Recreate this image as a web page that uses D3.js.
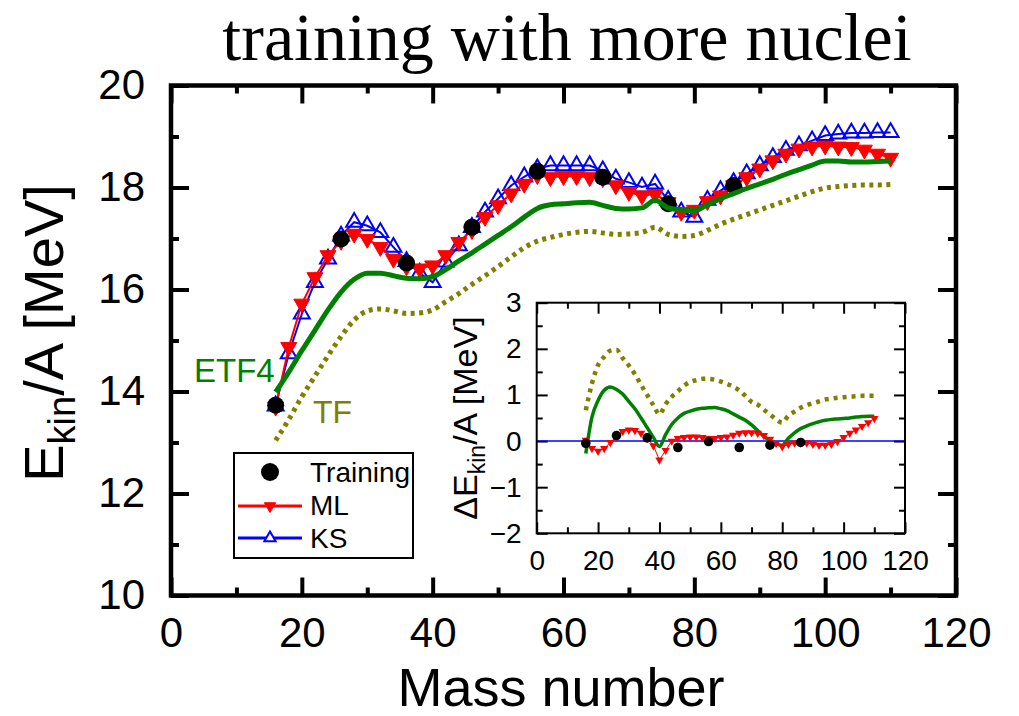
<!DOCTYPE html>
<html><head><meta charset="utf-8">
<script src="https://cdn.jsdelivr.net/npm/d3@7"></script>
<style>
html,body{margin:0;padding:0;background:#fff;}
svg{display:block;}
</style></head>
<body>
<svg id="chart" width="1019" height="716" style="font-family:'Liberation Sans',Arial,sans-serif"></svg>
<script>
// ---------- data ----------
const mass = [16,18,20,22,24,26,28,30,32,34,36,38,40,42,44,46,48,50,52,54,56,58,60,62,64,66,68,70,72,74,76,78,80,82,84,86,88,90,92,94,96,98,100,102,104,106,108,110];
const mlValues = [13.70,14.87,15.72,16.24,16.67,16.95,17.09,16.99,16.83,16.60,16.45,16.41,16.47,16.67,16.93,17.16,17.42,17.65,17.88,18.07,18.24,18.20,18.22,18.22,18.20,18.18,18.04,17.91,17.84,17.87,17.71,17.52,17.56,17.73,17.84,18.04,18.20,18.37,18.53,18.66,18.76,18.80,18.82,18.80,18.79,18.74,18.66,18.58];
const ksValues = [13.72,14.74,15.52,16.14,16.60,17.05,17.32,17.25,17.12,16.83,16.55,16.32,16.14,16.54,16.86,17.22,17.52,17.78,18.04,18.21,18.37,18.43,18.43,18.43,18.43,18.33,18.17,18.10,18.01,18.07,17.75,17.52,17.42,17.75,17.94,18.10,18.27,18.43,18.59,18.73,18.82,18.92,19.02,19.05,19.07,19.07,19.08,19.08];
const etf4Values = [13.99,14.38,14.80,15.20,15.60,15.95,16.20,16.32,16.32,16.27,16.22,16.21,16.25,16.39,16.56,16.72,16.89,17.06,17.23,17.42,17.59,17.66,17.68,17.70,17.71,17.65,17.59,17.58,17.60,17.75,17.60,17.56,17.55,17.66,17.78,17.88,17.98,18.07,18.16,18.26,18.35,18.44,18.52,18.52,18.50,18.50,18.51,18.52];
const tfValues = [13.04,13.45,13.90,14.30,14.70,15.08,15.40,15.58,15.62,15.58,15.53,15.54,15.60,15.76,15.92,16.10,16.27,16.45,16.64,16.82,16.95,17.02,17.08,17.12,17.14,17.11,17.08,17.09,17.12,17.22,17.08,17.04,17.06,17.16,17.28,17.38,17.47,17.56,17.65,17.74,17.83,17.92,17.99,18.02,18.04,18.05,18.05,18.06];
const trainMass = [16,26,36,46,56,66,76,86];
const trainValues = [13.73,16.99,16.52,17.22,18.32,18.20,17.68,18.04];

// inset: Delta E_kin/A
const dMlValues = [0.02,-0.16,-0.22,-0.16,-0.03,0.10,0.21,0.24,0.23,0.17,0.07,-0.10,-0.41,-0.20,0.00,0.06,0.08,0.09,0.09,0.08,0.06,0.06,0.08,0.09,0.13,0.17,0.18,0.18,0.17,0.12,0.04,-0.05,-0.12,-0.07,-0.04,-0.04,-0.04,-0.07,-0.09,-0.09,-0.07,-0.01,0.08,0.17,0.24,0.32,0.40,0.49];
const dEtf4Values = [-0.27,0.52,0.88,1.10,1.17,1.12,1.02,0.86,0.70,0.50,0.29,0.08,-0.12,0.14,0.36,0.50,0.60,0.65,0.69,0.71,0.72,0.73,0.70,0.66,0.59,0.52,0.45,0.35,0.23,0.10,0.01,-0.06,-0.09,0.06,0.18,0.27,0.33,0.38,0.42,0.45,0.47,0.48,0.49,0.50,0.52,0.53,0.54,0.54];
const dTfValues = [0.67,1.25,1.65,1.83,1.96,1.98,1.80,1.64,1.45,1.22,1.00,0.78,0.58,0.80,0.96,1.08,1.20,1.28,1.32,1.35,1.35,1.33,1.29,1.24,1.18,1.10,0.98,0.85,0.79,0.68,0.58,0.47,0.40,0.55,0.64,0.72,0.78,0.82,0.86,0.90,0.92,0.94,0.95,0.96,0.97,0.98,0.98,0.98];
const dTrainValues = [-0.05,0.12,0.07,-0.14,-0.01,-0.14,-0.09,-0.03];
const zeroLineX = [0,120];
const zeroLineY = [0,0];

const xTicks = [0,20,40,60,80,100,120];
const xMinor = [10,30,50,70,90,110];
const yTicks = [10,12,14,16,18,20];
const yMinor = [11,13,15,17,19];
const ixTicks = [0,20,40,60,80,100,120];
const ixMinor = [10,30,50,70,90,110];
const iyTicks = [-2,-1,0,1,2,3];
const iyMinor = [-1.5,-0.5,0.5,1.5,2.5];

const titleText = "training with more nuclei";
const xLabel = "Mass number";

// ---------- drawing ----------
const svg = d3.select("#chart");
const L = 171, R = 956, T = 85.5, B = 595.5;
const x = d3.scaleLinear().domain([0,120]).range([L,R]);
const y = d3.scaleLinear().domain([10,20]).range([B,T]);

const colRed="#ff0000", colBlue="#0000ff", colGreen="#008000", colOlive="#808000";
const sans = "'Liberation Sans',Arial,sans-serif";

function styleAxis(g, fs, sw){
  g.select(".domain").remove();
  g.selectAll(".tick line").attr("stroke","#000").attr("stroke-width",sw);
  g.selectAll(".tick text").attr("font-size",fs).attr("fill","#000").attr("font-family",sans);
}

// title
svg.append("text").attr("x",567).attr("y",60).attr("text-anchor","middle")
  .style("font-family","'Liberation Serif','Times New Roman',serif").attr("font-size",68)
  .text(titleText);

// main axes
const gx = svg.append("g").attr("transform",`translate(0,${B})`)
  .call(d3.axisBottom(x).tickValues(xTicks).tickSize(-18).tickPadding(22).tickFormat(d3.format("d")));
styleAxis(gx,42,4);
const gxm = svg.append("g").attr("transform",`translate(0,${B})`)
  .call(d3.axisBottom(x).tickValues(xMinor).tickSize(-8).tickFormat(""));
styleAxis(gxm,42,4);
const gxt = svg.append("g").attr("transform",`translate(0,${T})`)
  .call(d3.axisTop(x).tickValues(xTicks).tickSize(-18).tickFormat(""));
styleAxis(gxt,42,4);
const gxtm = svg.append("g").attr("transform",`translate(0,${T})`)
  .call(d3.axisTop(x).tickValues(xMinor).tickSize(-8).tickFormat(""));
styleAxis(gxtm,42,4);

const gy = svg.append("g").attr("transform",`translate(${L},0)`)
  .call(d3.axisLeft(y).tickValues(yTicks).tickSize(-18).tickPadding(26).tickFormat(d3.format("d")));
styleAxis(gy,42,4);
const gym = svg.append("g").attr("transform",`translate(${L},0)`)
  .call(d3.axisLeft(y).tickValues(yMinor).tickSize(-8).tickFormat(""));
styleAxis(gym,42,4);
const gyr = svg.append("g").attr("transform",`translate(${R},0)`)
  .call(d3.axisRight(y).tickValues(yTicks).tickSize(-18).tickFormat(""));
styleAxis(gyr,42,4);
const gyrm = svg.append("g").attr("transform",`translate(${R},0)`)
  .call(d3.axisRight(y).tickValues(yMinor).tickSize(-8).tickFormat(""));
styleAxis(gyrm,42,4);

svg.append("rect").attr("x",L).attr("y",T).attr("width",R-L).attr("height",B-T)
  .attr("fill","none").attr("stroke","#000").attr("stroke-width",4.5);

// axis titles
svg.append("text").attr("x",561).attr("y",706).attr("text-anchor","middle")
  .attr("font-size",54).text(xLabel);
const yt = svg.append("text").attr("transform","translate(63,333) rotate(-90)")
  .attr("text-anchor","middle").attr("font-size",56);
yt.append("tspan").text("E");
yt.append("tspan").attr("font-size",38).attr("dy",12).text("kin");
yt.append("tspan").attr("dy",-12).text("/A [MeV]");

// main series
const idx = d3.range(mass.length);
const lineMain = vals => d3.line().x(i=>x(mass[i])).y(i=>y(vals[i]));

// KS
svg.append("path").attr("d",lineMain(ksValues)(idx)).attr("fill","none").attr("stroke",colBlue).attr("stroke-width",2);
svg.append("g").selectAll("path").data(idx).join("path")
  .attr("d",d3.symbol(d3.symbolTriangle,110)())
  .attr("transform",i=>`translate(${x(mass[i])},${y(ksValues[i])})`)
  .attr("fill","none").attr("stroke",colBlue).attr("stroke-width",2);
// ML
svg.append("path").attr("d",lineMain(mlValues)(idx)).attr("fill","none").attr("stroke",colRed).attr("stroke-width",2);
svg.append("g").selectAll("path").data(idx).join("path")
  .attr("d",d3.symbol(d3.symbolTriangle,110)())
  .attr("transform",i=>`translate(${x(mass[i])},${y(mlValues[i])}) rotate(180)`)
  .attr("fill",colRed).attr("stroke",colRed).attr("stroke-width",1);
// Training
svg.append("g").selectAll("circle").data(trainMass).join("circle")
  .attr("cx",d=>x(d)).attr("cy",(d,i)=>y(trainValues[i])).attr("r",8.5).attr("fill","#000");
// ETF4
svg.append("path").attr("d",lineMain(etf4Values).curve(d3.curveMonotoneX)(idx))
  .attr("fill","none").attr("stroke",colGreen).attr("stroke-width",5);
// TF
svg.append("path").attr("d",lineMain(tfValues).curve(d3.curveMonotoneX)(idx))
  .attr("fill","none").attr("stroke",colOlive).attr("stroke-width",5).attr("stroke-dasharray","4,4.5");

// labels
svg.append("text").attr("x",194).attr("y",382).attr("font-size",33).attr("fill",colGreen).text("ETF4");
svg.append("text").attr("x",313).attr("y",423).attr("font-size",32).attr("fill",colOlive).text("TF");

// legend
const lg = svg.append("g");
lg.append("rect").attr("x",234).attr("y",453).attr("width",179).attr("height",105)
  .attr("fill","#fff").attr("stroke","#000").attr("stroke-width",2);
lg.append("circle").attr("cx",270).attr("cy",472).attr("r",9).attr("fill","#000");
lg.append("text").attr("x",310).attr("y",482).attr("font-size",28).text("Training");
lg.append("line").attr("x1",238).attr("x2",302).attr("y1",506).attr("y2",506).attr("stroke",colRed).attr("stroke-width",3);
lg.append("path").attr("d",d3.symbol(d3.symbolTriangle,55)()).attr("transform","translate(270,506) rotate(180)").attr("fill",colRed).attr("stroke",colRed);
lg.append("text").attr("x",310).attr("y",515).attr("font-size",28).text("ML");
lg.append("line").attr("x1",238).attr("x2",302).attr("y1",538).attr("y2",538).attr("stroke",colBlue).attr("stroke-width",3);
lg.append("path").attr("d",d3.symbol(d3.symbolTriangle,55)()).attr("transform","translate(270,538)").attr("fill","#fff").attr("stroke",colBlue).attr("stroke-width",2);
lg.append("text").attr("x",310).attr("y",548).attr("font-size",28).text("KS");

// ---------- inset ----------
const iL=536.7, iR=905, iT=302.7, iB=533.3;
const xi = d3.scaleLinear().domain([0,120]).range([iL,iR]);
const yi = d3.scaleLinear().domain([-2,3]).range([iB,iT]);
svg.append("rect").attr("x",iL).attr("y",iT).attr("width",iR-iL).attr("height",iB-iT).attr("fill","#fff");

const ig = svg.append("g");
const ax1 = ig.append("g").attr("transform",`translate(0,${iB})`)
  .call(d3.axisBottom(xi).tickValues(ixTicks).tickSize(-11).tickPadding(17).tickFormat(d3.format("d")));
styleAxis(ax1,28,2);
const ax2 = ig.append("g").attr("transform",`translate(0,${iB})`)
  .call(d3.axisBottom(xi).tickValues(ixMinor).tickSize(-6).tickFormat(""));
styleAxis(ax2,28,2);
const ax3 = ig.append("g").attr("transform",`translate(0,${iT})`)
  .call(d3.axisTop(xi).tickValues(ixTicks).tickSize(-11).tickFormat(""));
styleAxis(ax3,28,2);
const ax4 = ig.append("g").attr("transform",`translate(0,${iT})`)
  .call(d3.axisTop(xi).tickValues(ixMinor).tickSize(-6).tickFormat(""));
styleAxis(ax4,28,2);
const ay1 = ig.append("g").attr("transform",`translate(${iL},0)`)
  .call(d3.axisLeft(yi).tickValues(iyTicks).tickSize(-11).tickPadding(15).tickFormat(d3.format("d")));
styleAxis(ay1,28,2);
const ay2 = ig.append("g").attr("transform",`translate(${iL},0)`)
  .call(d3.axisLeft(yi).tickValues(iyMinor).tickSize(-6).tickFormat(""));
styleAxis(ay2,28,2);
const ay3 = ig.append("g").attr("transform",`translate(${iR},0)`)
  .call(d3.axisRight(yi).tickValues(iyTicks).tickSize(-11).tickFormat(""));
styleAxis(ay3,28,2);
const ay4 = ig.append("g").attr("transform",`translate(${iR},0)`)
  .call(d3.axisRight(yi).tickValues(iyMinor).tickSize(-6).tickFormat(""));
styleAxis(ay4,28,2);

const lineIn = vals => d3.line().x(i=>xi(mass[i])).y(i=>yi(vals[i]));
// zero line (KS reference)
ig.append("path").attr("d",d3.line().x(d=>xi(d)).y((d,i)=>yi(zeroLineY[i]))(zeroLineX))
  .attr("stroke",colBlue).attr("stroke-width",1.5).attr("fill","none");
// TF
ig.append("path").attr("d",lineIn(dTfValues).curve(d3.curveMonotoneX)(idx))
  .attr("fill","none").attr("stroke",colOlive).attr("stroke-width",4.5).attr("stroke-dasharray","4,5");
// ETF4
ig.append("path").attr("d",lineIn(dEtf4Values).curve(d3.curveMonotoneX)(idx))
  .attr("fill","none").attr("stroke",colGreen).attr("stroke-width",3.5);
// ML
ig.append("path").attr("d",lineIn(dMlValues)(idx)).attr("fill","none").attr("stroke",colRed).attr("stroke-width",1);
ig.append("g").selectAll("path").data(idx).join("path")
  .attr("d",d3.symbol(d3.symbolTriangle,30)())
  .attr("transform",i=>`translate(${xi(mass[i])},${yi(dMlValues[i])}) rotate(180)`)
  .attr("fill",colRed);
// Training
ig.append("g").selectAll("circle").data(trainMass).join("circle")
  .attr("cx",d=>xi(d)).attr("cy",(d,i)=>yi(dTrainValues[i])).attr("r",4.8).attr("fill","#000");

ig.append("rect").attr("x",iL).attr("y",iT).attr("width",iR-iL).attr("height",iB-iT)
  .attr("fill","none").attr("stroke","#000").attr("stroke-width",2);

const iyt = ig.append("text").attr("transform","translate(477,418) rotate(-90)")
  .attr("text-anchor","middle").attr("font-size",34);
iyt.append("tspan").text("ΔE");
iyt.append("tspan").attr("font-size",23).attr("dy",8).text("kin");
iyt.append("tspan").attr("dy",-8).text("/A [MeV]");
</script>
</body></html>
